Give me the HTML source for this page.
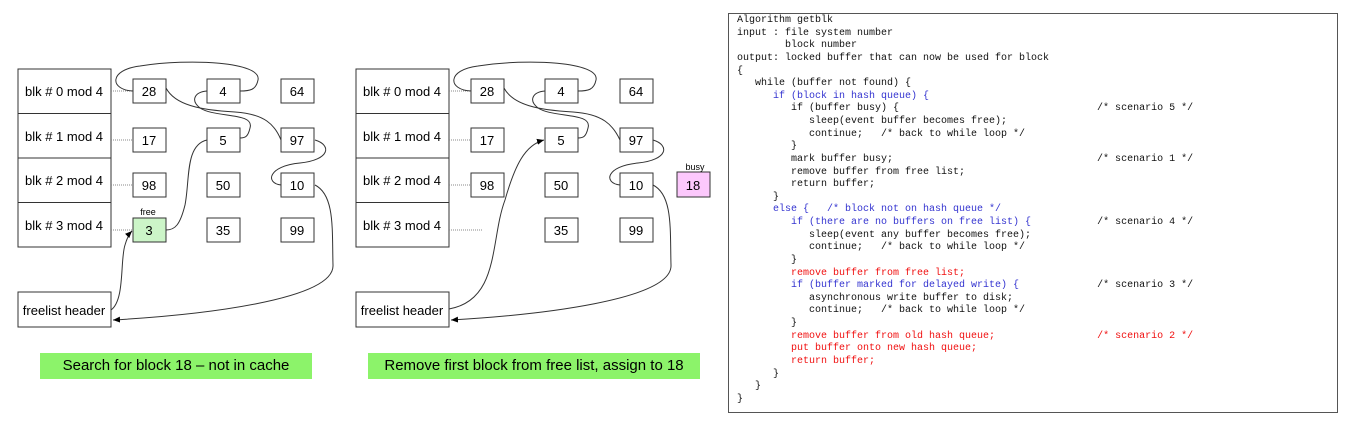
<!DOCTYPE html>
<html><head><meta charset="utf-8"><style>
body{margin:0;background:#fff;width:1358px;height:431px;overflow:hidden;position:relative;font-family:"Liberation Sans",Arial,sans-serif}
svg{position:absolute;left:0;top:0}
.code{position:absolute;left:728px;top:13px;width:610px;height:400px;border:1px solid #555;box-sizing:border-box;background:#fff}
pre{margin:0;position:absolute;left:8px;top:1px;font-family:"Liberation Mono",monospace;font-size:10px;line-height:12.63px;color:#111}
.b{color:#3434d0}.r{color:#f01010}
.ban{position:absolute;background:#8cf36a;font-size:15px;text-align:center;line-height:26px;height:26px}
</style></head><body>
<svg width="1358" height="431" font-family="Liberation Sans, Arial, sans-serif" font-size="13">
<defs><marker id="a" markerWidth="8" markerHeight="8" refX="7" refY="4" orient="auto" markerUnits="userSpaceOnUse"><path d="M0,1 L7,4 L0,7 z" fill="#000"/></marker></defs>
<g id="d1" fill="none" stroke="#333" stroke-width="1">
<rect x="18" y="69" width="93" height="44.5"/><rect x="18" y="113.5" width="93" height="44.5"/><rect x="18" y="158" width="93" height="44.5"/><rect x="18" y="202.5" width="93" height="44.5"/>
<rect x="18" y="292" width="93" height="35"/>
<g stroke="#888" stroke-dasharray="1,1"><line x1="111" y1="91" x2="133" y2="91"/><line x1="111" y1="140" x2="133" y2="140"/><line x1="111" y1="185" x2="133" y2="185"/><line x1="111" y1="230" x2="133" y2="230"/></g>
<rect x="133" y="79" width="33" height="24"/><rect x="207" y="79" width="33" height="24"/><rect x="281" y="79" width="33" height="24"/>
<rect x="133" y="128" width="33" height="24"/><rect x="207" y="128" width="33" height="24"/><rect x="281" y="128" width="33" height="24"/>
<rect x="133" y="173" width="33" height="24"/><rect x="207" y="173" width="33" height="24"/><rect x="281" y="173" width="33" height="24"/>
<rect x="133" y="218" width="33" height="24" fill="#ccf5c8"/><rect x="207" y="218" width="33" height="24"/><rect x="281" y="218" width="33" height="24"/>
<path d="M133,91 C110,90 108,70 140,66 C190,58 262,62 258,80 C256,90 250,91 240,91"/>
<path d="M166,88 C175,105 200,110 235,112 C265,114 275,125 281,140"/>
<path d="M207,91 C195,92 190,100 200,108 C215,118 255,112 250,128 C248,137 245,138 240,138"/>
<path d="M207,140 C185,145 190,180 185,205 C180,225 175,230 166,230"/>
<path d="M315,140 C332,145 330,160 300,163 C268,166 265,183 281,185"/>
<path d="M315,185 C335,195 332,230 333,265 C335,300 200,315 113,320" marker-end="url(#a)"/>
<path d="M111,310 C125,300 120,260 125,245 C127,238 129,234 132,231" marker-end="url(#a)"/>
</g>
<g fill="#000" text-anchor="middle">
<text x="64" y="96">blk # 0 mod 4</text><text x="64" y="141">blk # 1 mod 4</text><text x="64" y="185">blk # 2 mod 4</text><text x="64" y="230">blk # 3 mod 4</text>
<text x="64" y="315">freelist header</text>
<text x="149" y="96">28</text><text x="223" y="96">4</text><text x="297" y="96">64</text>
<text x="149" y="145">17</text><text x="223" y="145">5</text><text x="297" y="145">97</text>
<text x="149" y="190">98</text><text x="223" y="190">50</text><text x="297" y="190">10</text>
<text x="149" y="235">3</text><text x="223" y="235">35</text><text x="297" y="235">99</text>
<text x="148" y="215" font-size="9">free</text>
</g>
<g fill="none" stroke="#333" stroke-width="1">
<rect x="356" y="69" width="93" height="44.5"/><rect x="356" y="113.5" width="93" height="44.5"/><rect x="356" y="158" width="93" height="44.5"/><rect x="356" y="202.5" width="93" height="44.5"/>
<rect x="356" y="292" width="93" height="35"/>
<g stroke="#888" stroke-dasharray="1,1"><line x1="449" y1="91" x2="471" y2="91"/><line x1="449" y1="140" x2="471" y2="140"/><line x1="449" y1="185" x2="471" y2="185"/><line x1="449" y1="230" x2="482" y2="230"/></g>
<rect x="471" y="79" width="33" height="24"/><rect x="545" y="79" width="33" height="24"/><rect x="620" y="79" width="33" height="24"/>
<rect x="471" y="128" width="33" height="24"/><rect x="545" y="128" width="33" height="24"/><rect x="620" y="128" width="33" height="24"/>
<rect x="471" y="173" width="33" height="24"/><rect x="545" y="173" width="33" height="24"/><rect x="620" y="173" width="33" height="24"/>
<rect x="545" y="218" width="33" height="24"/><rect x="620" y="218" width="33" height="24"/>
<rect x="677" y="172" width="33" height="25" fill="#fcc8fc"/>
<path d="M471,91 C448,90 446,70 478,66 C528,58 600,62 596,80 C594,90 588,91 578,91"/>
<path d="M504,88 C513,105 538,110 573,112 C603,114 613,125 620,140"/>
<path d="M545,91 C533,92 528,100 538,108 C553,118 593,112 588,128 C586,137 583,138 578,138"/>
<path d="M653,140 C670,145 668,160 638,163 C606,166 603,183 620,185"/>
<path d="M653,185 C673,195 670,230 671,265 C673,300 538,315 451,320" marker-end="url(#a)"/>
<path d="M449,309 C500,300 490,240 505,200 C515,165 525,145 544,140" marker-end="url(#a)"/>
</g>
<g fill="#000" text-anchor="middle">
<text x="402" y="96">blk # 0 mod 4</text><text x="402" y="141">blk # 1 mod 4</text><text x="402" y="185">blk # 2 mod 4</text><text x="402" y="230">blk # 3 mod 4</text>
<text x="402" y="315">freelist header</text>
<text x="487" y="96">28</text><text x="561" y="96">4</text><text x="636" y="96">64</text>
<text x="487" y="145">17</text><text x="561" y="145">5</text><text x="636" y="145">97</text>
<text x="487" y="190">98</text><text x="561" y="190">50</text><text x="636" y="190">10</text>
<text x="561" y="235">35</text><text x="636" y="235">99</text>
<text x="693" y="190">18</text>
<text x="695" y="170" font-size="9">busy</text>
</g>
</svg>
<div class="ban" style="left:40px;top:353px;width:272px">Search for block 18 – not in cache</div>
<div class="ban" style="left:368px;top:353px;width:332px">Remove first block from free list, assign to 18</div>
<div class="code"><pre>Algorithm getblk
input : file system number
        block number
output: locked buffer that can now be used for block
{
   while (buffer not found) {
      <span class="b">if (block in hash queue) {</span>
         if (buffer busy) {                                 /* scenario 5 */
            sleep(event buffer becomes free);
            continue;   /* back to while loop */
         }
         mark buffer busy;                                  /* scenario 1 */
         remove buffer from free list;
         return buffer;
      }
      <span class="b">else {   /* block not on hash queue */</span>
         <span class="b">if (there are no buffers on free list) {</span>           /* scenario 4 */
            sleep(event any buffer becomes free);
            continue;   /* back to while loop */
         }
         <span class="r">remove buffer from free list;</span>
         <span class="b">if (buffer marked for delayed write) {</span>             /* scenario 3 */
            asynchronous write buffer to disk;
            continue;   /* back to while loop */
         }
         <span class="r">remove buffer from old hash queue;                 /* scenario 2 */</span>
         <span class="r">put buffer onto new hash queue;</span>
         <span class="r">return buffer;</span>
      }
   }
}</pre></div>
</body></html>
